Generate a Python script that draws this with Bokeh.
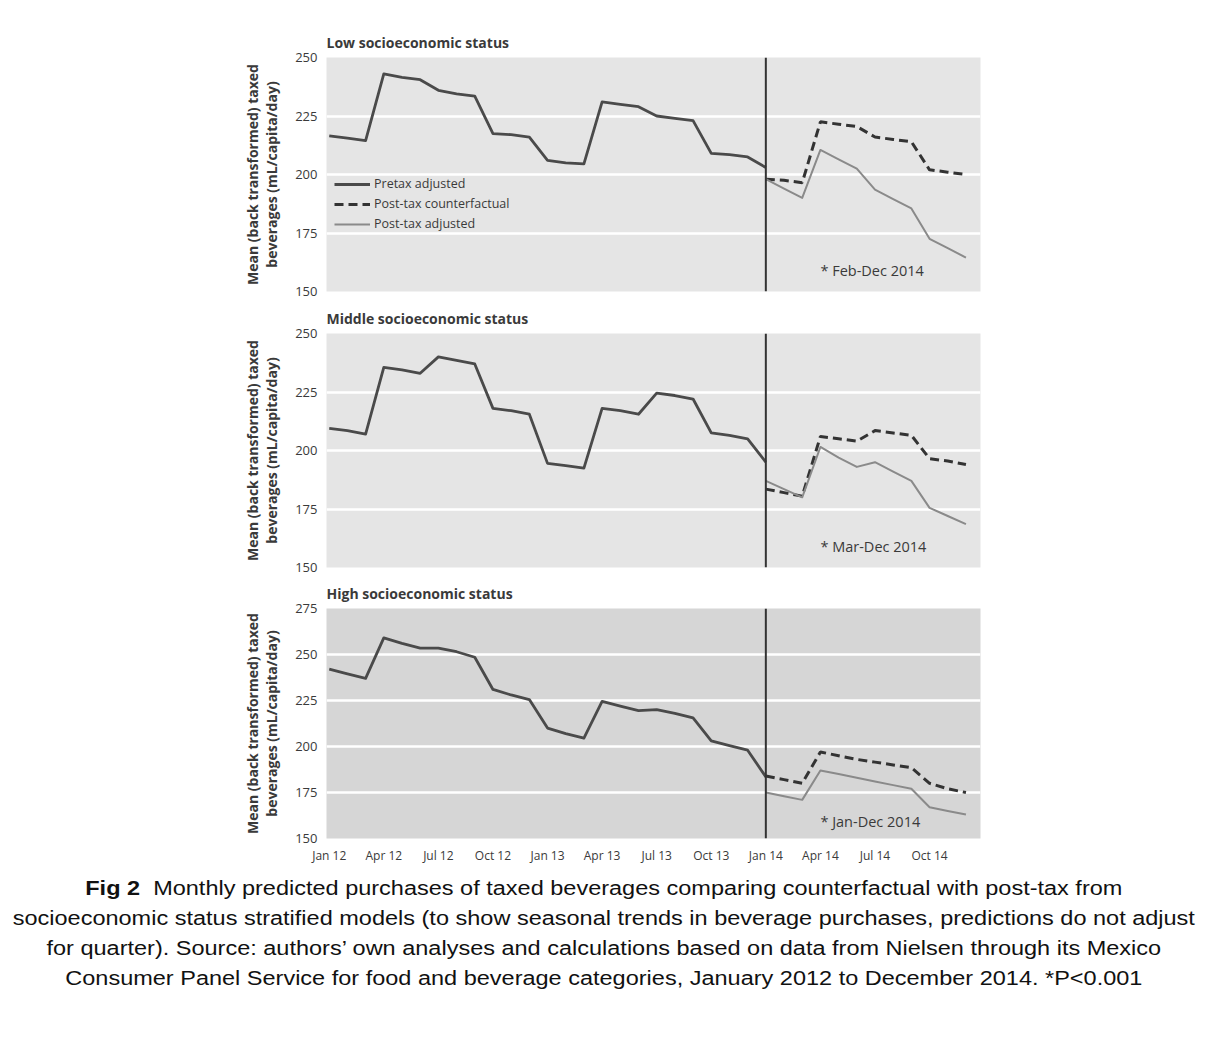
from bokeh.plotting import figure
from bokeh.models import Range1d, FixedTicker, Span, Label, Legend, LegendItem, Div
from bokeh.layouts import column
from bokeh.embed import file_html
from bokeh.resources import INLINE

# ---------------- data ----------------
months = list(range(36))                      # 0 = Jan 2012 ... 35 = Dec 2014
tax_start = 24                                # Jan 2014
tick_months = [0, 3, 6, 9, 12, 15, 18, 21, 24, 27, 30, 33]
tick_labels = ["Jan 12", "Apr 12", "Jul 12", "Oct 12", "Jan 13", "Apr 13",
               "Jul 13", "Oct 13", "Jan 14", "Apr 14", "Jul 14", "Oct 14"]

y_ticks_250 = [150, 175, 200, 225, 250]
y_ticks_275 = [150, 175, 200, 225, 250, 275]

# Low SES
low_pretax = [216.5, 215.5, 214.5, 243, 241.5, 240.5, 236, 234.5, 233.5, 217.5, 217, 216,
              206, 205, 204.5, 231, 230, 229, 225, 224, 223, 209, 208.5, 207.5, 203]
low_counterfactual = [198, 197.5, 196.5, 222.5, 221.5, 220.5, 216, 215, 214, 202, 201, 200]
low_posttax = [198, 194, 190, 210.5, 206.5, 202.5, 193.5, 189.5, 185.5, 172.5, 168.5, 164.5]

# Middle SES
mid_pretax = [209.5, 208.5, 207, 235.5, 234.5, 233, 240, 238.5, 237, 218, 217, 215.5,
              194.5, 193.5, 192.5, 218, 217, 215.5, 224.5, 223.5, 222, 207.5, 206.5, 205, 195]
mid_counterfactual = [183.5, 182, 180.5, 206, 205, 204, 208.5, 207.5, 206.5, 196.5, 195.5, 194]
mid_posttax = [187, 183.5, 180, 201.5, 197, 193, 195, 191, 187, 175.5, 172, 168.5]

# High SES
high_pretax = [242, 239.5, 237, 259, 256, 253.5, 253.5, 251.5, 248.5, 231, 228, 225.5,
               210, 207, 204.5, 224.5, 222, 219.5, 220, 218, 215.5, 203, 200.5, 198, 183.5]
high_counterfactual = [184, 182, 180, 197, 195, 193, 191.5, 190, 188.5, 180, 177, 175]
high_posttax = [175, 173, 171, 187, 185, 183, 181, 179, 177, 167, 165, 163]

titles = ["Low socioeconomic status", "Middle socioeconomic status", "High socioeconomic status"]
notes = ["* Feb-Dec 2014", "* Mar-Dec 2014", "* Jan-Dec 2014"]
series_labels = ["Pretax adjusted", "Post-tax counterfactual", "Post-tax adjusted"]
y_label = "Mean (back transformed) taxed\nbeverages (mL/capita/day)"

TXT = "#3a3a3a"


def make_panel(title, pretax, cf, post, note, y_ticks, frame_h, top_b, bot_b, bg,
               show_x=False, legend=False):
    p = figure(frame_width=654, frame_height=frame_h,
               min_border_left=326, min_border_right=210,
               min_border_top=top_b, min_border_bottom=bot_b,
               x_range=Range1d(-0.15, 35.8),
               y_range=Range1d(y_ticks[0], y_ticks[-1]),
               output_backend="svg", toolbar_location=None,
               background_fill_color=bg, border_fill_color="white",
               outline_line_color=None)
    p.title.text = title
    p.title.text_font = "Open Sans"
    p.title.text_font_style = "bold"
    p.title.text_font_size = "14px"
    p.title.text_color = TXT
    p.title.align = "left"
    p.title.standoff = 11

    yax = p.yaxis[0]
    yax.ticker = FixedTicker(ticks=y_ticks)
    yax.axis_line_color = None
    yax.major_tick_line_color = None
    yax.minor_tick_line_color = None
    yax.major_tick_out = 0
    yax.major_label_standoff = 9
    yax.major_label_text_font = "Open Sans"
    yax.major_label_text_font_size = "13px"
    yax.major_label_text_color = TXT
    yax.axis_label = y_label
    yax.axis_label_text_font = "Open Sans"
    yax.axis_label_text_font_style = "bold"
    yax.axis_label_text_font_size = "14px"
    yax.axis_label_text_color = TXT
    yax.axis_label_text_line_height = 1.0
    yax.axis_label_standoff = 11

    xax = p.xaxis[0]
    if show_x:
        xax.ticker = FixedTicker(ticks=tick_months)
        xax.major_label_overrides = {m: l for m, l in zip(tick_months, tick_labels)}
        xax.axis_line_color = None
        xax.major_tick_line_color = None
        xax.minor_tick_line_color = None
        xax.major_tick_out = 0
        xax.major_label_standoff = 8
        xax.major_label_text_font = "Open Sans"
        xax.major_label_text_font_size = "12px"
        xax.major_label_text_color = TXT
    else:
        xax.visible = False

    p.xgrid.grid_line_color = None
    p.ygrid.ticker = FixedTicker(ticks=y_ticks[1:-1])
    p.ygrid.grid_line_color = "white"
    p.ygrid.grid_line_width = 2.5

    r1 = p.line(months[:tax_start + 1], pretax, line_color="#4a4a4a", line_width=2.8,
                line_join="round")
    r2 = p.line(months[tax_start:], cf, line_color="#333333", line_width=3,
                line_dash="9 5")
    r3 = p.line(months[tax_start:], post, line_color="#8a8a8a", line_width=2,
                line_join="round")

    p.add_layout(Span(location=tax_start, dimension="height", line_color="#333333",
                      line_width=2))
    p.add_layout(Label(x=27, y=y_ticks[0] + 9, text=note, text_font="Open Sans",
                       text_font_size="14.5px", text_color=TXT, text_baseline="middle"))

    if legend:
        lg = Legend(items=[LegendItem(label=series_labels[0], renderers=[r1]),
                           LegendItem(label=series_labels[1], renderers=[r2]),
                           LegendItem(label=series_labels[2], renderers=[r3])],
                    location=(8, 59), background_fill_alpha=0, border_line_color=None,
                    padding=0, margin=0, spacing=3, label_height=14, glyph_height=14,
                    glyph_width=36, label_standoff=4, label_text_font="Open Sans",
                    label_text_font_size="12.5px", label_text_color=TXT)
        p.add_layout(lg)
    return p


p1 = make_panel(titles[0], low_pretax, low_counterfactual, low_posttax, notes[0],
                y_ticks_250, 234, 57, 10, "#e5e5e5", legend=True)
p2 = make_panel(titles[1], mid_pretax, mid_counterfactual, mid_posttax, notes[1],
                y_ticks_250, 234, 28, 9, "#e5e5e5")
p3 = make_panel(titles[2], high_pretax, high_counterfactual, high_posttax, notes[2],
                y_ticks_275, 230, 28, 32, "#d6d6d6", show_x=True)

caption_html = (
    '<div style="width:1190px;text-align:center;font-family:\'Liberation Sans\',Arial,sans-serif;'
    'font-size:20px;line-height:30px;color:#111;white-space:nowrap;margin-top:-2px;'
    'transform:translateX(4px) scaleX(1.175);transform-origin:596px 0;">'
    '<b>Fig 2</b>&nbsp; Monthly predicted purchases of taxed beverages comparing counterfactual with post-tax from<br>'
    'socioeconomic status stratified models (to show seasonal trends in beverage purchases, predictions do not adjust<br>'
    'for quarter). Source: authors\u2019 own analyses and calculations based on data from Nielsen through its Mexico<br>'
    'Consumer Panel Service for food and beverage categories, January 2012 to December 2014. *P&lt;0.001'
    '</div>'
)
caption = Div(text=caption_html, width=1190, height=160)

layout = column(p1, p2, p3, caption, spacing=0)

open("out.html", "w").write(file_html(layout, INLINE))
